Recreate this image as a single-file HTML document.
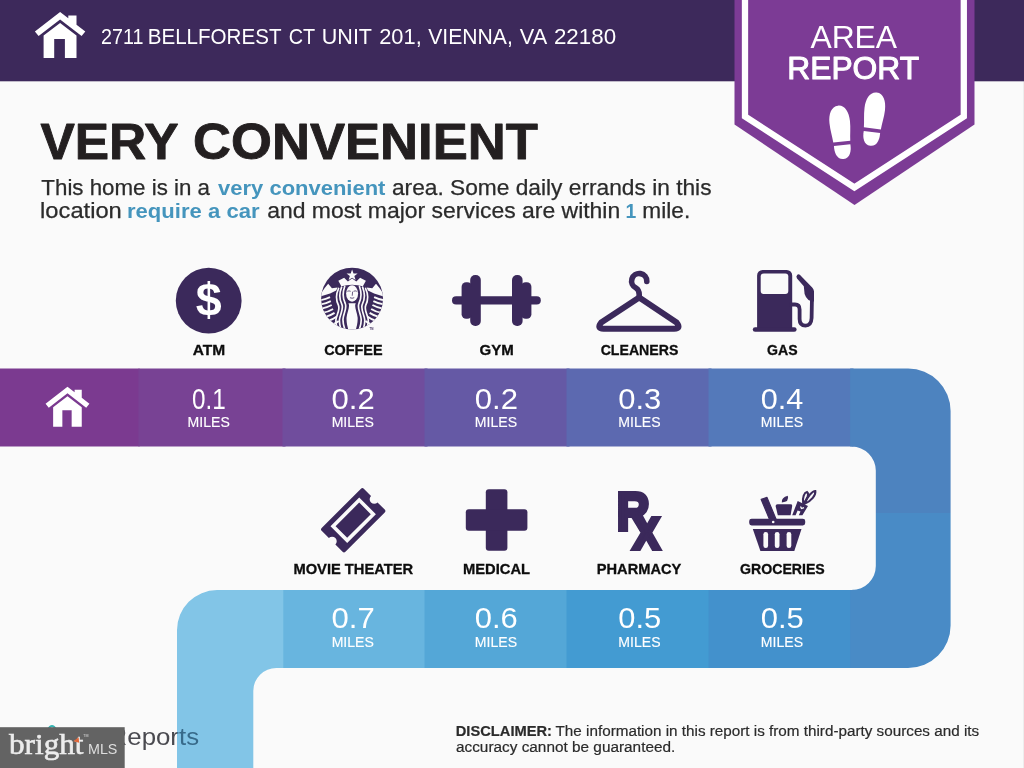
<!DOCTYPE html>
<html lang="en">
<head>
<meta charset="utf-8">
<title>Area Report - 2711 Bellforest Ct Unit 201, Vienna, VA 22180</title>
<style>
html,body{margin:0;padding:0;background:#fafafa;}
body{width:1024px;height:768px;overflow:hidden;position:relative;font-family:"Liberation Sans",sans-serif;}
svg{position:absolute;left:0;top:0;display:block;}
text{font-family:"Liberation Sans",sans-serif;}
.lbl{font-weight:bold;fill:#0d0d0d;stroke:#0d0d0d;stroke-width:0.3px;}
.num{fill:#fff;}
.mi{fill:#fff;}
.p{fill:#2b2b2b;stroke:#2b2b2b;stroke-width:0.25px;}
.hl{font-weight:bold;fill:#4595bd;stroke:none;}
.d{fill:#2b2b2b;stroke:#2b2b2b;stroke-width:0.2px;}
.b{font-weight:bold;}
.w{fill:#fff;}
.ttl{font-weight:bold;fill:#231f20;stroke:#231f20;stroke-width:0.9px;stroke-linejoin:round;}
</style>
</head>
<body>
<svg width="1024" height="768" viewBox="0 0 1024 768">
<rect x="0" y="0" width="1024" height="768" fill="#fafafa"/>
<rect x="1023" y="81" width="1" height="687" fill="#ededed"/>

<!-- ===== header ===== -->
<g id="header">
<rect x="0" y="0" width="1024" height="81.3" fill="#3d295b"/>
<g id="hdr-house" fill="#fff">
  <path d="M60.1 11.9 L68.3 18.3 L68.3 15.5 L76.5 15.5 L76.5 24.7 L85.3 31.5 L81.6 36.1 L60.1 19.5 L38.6 36.1 L34.9 31.5 Z"/>
  <path d="M60.1 22.9 L76.5 35.6 L76.5 57.9 L64.9 57.9 L64.9 39 L54.2 39 L54.2 57.9 L43.6 57.9 L43.6 35.6 Z"/>
</g>
<text y="43.6"><tspan x="101.01" font-size="22.5" textLength="42.38" lengthAdjust="spacingAndGlyphs" class="w">2711</tspan> <tspan x="147.71" font-size="22.5" textLength="133.75" lengthAdjust="spacingAndGlyphs" class="w">BELLFOREST</tspan> <tspan x="288.76" font-size="22.5" textLength="26.43" lengthAdjust="spacingAndGlyphs" class="w">CT</tspan> <tspan x="321.83" font-size="22.5" textLength="50.17" lengthAdjust="spacingAndGlyphs" class="w">UNIT</tspan> <tspan x="379.21" font-size="22.5" textLength="42.52" lengthAdjust="spacingAndGlyphs" class="w">201,</tspan> <tspan x="428.19" font-size="22.5" textLength="84.57" lengthAdjust="spacingAndGlyphs" class="w">VIENNA,</tspan> <tspan x="519.8" font-size="22.5" textLength="27.39" lengthAdjust="spacingAndGlyphs" class="w">VA</tspan> <tspan x="553.93" font-size="22.5" textLength="62.17" lengthAdjust="spacingAndGlyphs" class="w">22180</tspan></text>
</g>

<!-- ===== badge ===== -->
<g id="badge">
<path d="M734.5 0 H974.5 V124.5 L854.5 205 L734.5 124.5 Z" fill="#7c3b95"/>
<path d="M745 -4 V116.5 L854.4 187.5 L963.8 116.5 V-4" fill="none" stroke="#fff" stroke-width="6.3"/>
<text x="810.4" y="47.5" font-size="31.5" textLength="86.71" lengthAdjust="spacingAndGlyphs" class="w">AREA</text>
<text x="787.3" y="78.7" font-size="31.2" textLength="131.82" lengthAdjust="spacingAndGlyphs" class="w" stroke="#fff" stroke-width="1.0" stroke-linejoin="round">REPORT</text>
<g id="feet" fill="#fff">
  <g transform="translate(840.8,132.3) rotate(-6) scale(1.03)">
    <path d="M0 -26 C6.5 -26 10 -19 10 -10 C10 -3 8.6 3 8.3 9 L-8.3 9 C-8.6 3 -10 -3 -10 -10 C-10 -19 -6.5 -26 0 -26 Z"/>
    <path d="M-8 12.5 L8 12.5 C8.4 19 6.5 26 0 26 C-6.5 26 -8.4 19 -8 12.5 Z"/>
  </g>
  <g transform="translate(873.5,119.2) rotate(7) scale(1.03)">
    <path d="M0 -26 C6.5 -26 10 -19 10 -10 C10 -3 8.6 3 8.3 9 L-8.3 9 C-8.6 3 -10 -3 -10 -10 C-10 -19 -6.5 -26 0 -26 Z"/>
    <path d="M-8 12.5 L8 12.5 C8.4 19 6.5 26 0 26 C-6.5 26 -8.4 19 -8 12.5 Z"/>
  </g>
</g>
</g>

<!-- ===== title + intro ===== -->
<g id="intro">
<text y="158.8"><tspan x="40.47" font-size="50.6" textLength="138.12" lengthAdjust="spacingAndGlyphs" class="ttl">VERY</tspan> <tspan x="193.13" font-size="50.6" textLength="344.71" lengthAdjust="spacingAndGlyphs" class="ttl">CONVENIENT</tspan></text>
<text y="195.3"><tspan x="41.36" font-size="21.6" textLength="168.65" lengthAdjust="spacingAndGlyphs" class="p">This home is in a</tspan> <tspan x="218.08" font-size="21.0" textLength="167.37" lengthAdjust="spacingAndGlyphs" class="p hl">very convenient</tspan> <tspan x="391.95" font-size="21.6" textLength="319.6" lengthAdjust="spacingAndGlyphs" class="p">area. Some daily errands in this</tspan></text>
<text y="218.0"><tspan x="40.1" font-size="21.6" textLength="81.68" lengthAdjust="spacingAndGlyphs" class="p">location</tspan> <tspan x="127.0" font-size="21.0" textLength="132.54" lengthAdjust="spacingAndGlyphs" class="p hl">require a car</tspan> <tspan x="267.15" font-size="21.6" textLength="353.08" lengthAdjust="spacingAndGlyphs" class="p">and most major services are within</tspan> <tspan x="625.58" font-size="21.0" textLength="10.76" lengthAdjust="spacingAndGlyphs" class="p hl">1</tspan> <tspan x="642.36" font-size="21.6" textLength="47.86" lengthAdjust="spacingAndGlyphs" class="p">mile.</tspan></text>
</g>

<!-- ===== path bands ===== -->
<clipPath id="snake"><path d="M-2 368.6 H908.1 A42.5 42.5 0 0 1 950.6 411.1 V625.4 A42.5 42.5 0 0 1 908.1 667.9 H276.3 A23 23 0 0 0 253.3 690.9 V770 H177.0 V630.1 A40 40 0 0 1 217.0 590.1 H851.8 A24 24 0 0 0 875.8 566.1 V470.6 A24 24 0 0 0 851.8 446.6 H-2 Z"/></clipPath>
<g id="bands" clip-path="url(#snake)">
  <rect x="-2" y="360" width="141.5" height="95" fill="#7b3a90"/>
  <rect x="138.5" y="360" width="147.0" height="95" fill="#784294"/>
  <rect x="282.5" y="360" width="145.0" height="95" fill="#704d9d"/>
  <rect x="424.5" y="360" width="145.0" height="95" fill="#6559a5"/>
  <rect x="566.5" y="360" width="145.0" height="95" fill="#5c69b0"/>
  <rect x="708.5" y="360" width="145.0" height="95" fill="#5479ba"/>
  <rect x="282" y="582" width="145.5" height="95" fill="#68b5df"/>
  <rect x="424.5" y="582" width="145.0" height="95" fill="#54a7d7"/>
  <rect x="566.5" y="582" width="145.0" height="95" fill="#439bd2"/>
  <rect x="708.5" y="582" width="145.0" height="95" fill="#4391cc"/>
  <rect x="850.2" y="360" width="110" height="153" fill="#4d83bf"/>
  <rect x="850.2" y="513" width="110" height="170" fill="#498bc6"/>
  <rect x="170" y="582" width="113.3" height="190" fill="#82c5e7"/>
</g>

<!-- home icon on band -->
<g id="band-house" fill="#fff" transform="translate(15.2,376.3) scale(0.87)">
  <path d="M60.1 11.9 L68.3 18.3 L68.3 15.5 L76.5 15.5 L76.5 24.7 L85.3 31.5 L81.6 36.1 L60.1 19.5 L38.6 36.1 L34.9 31.5 Z"/>
  <path d="M60.1 22.9 L76.5 35.6 L76.5 57.9 L64.9 57.9 L64.9 39 L54.2 39 L54.2 57.9 L43.6 57.9 L43.6 35.6 Z"/>
</g>

<!-- distances -->
<g id="distances">
  <text x="192.12" y="408.7" font-size="30.0" textLength="33.78" lengthAdjust="spacingAndGlyphs" class="num" stroke="#784294" stroke-width="0.0">0.1</text> <text x="187.57" y="426.7" font-size="15.5" textLength="42.21" lengthAdjust="spacingAndGlyphs" class="mi" stroke="#fff" stroke-width="0.15">MILES</text>
  <text x="331.62" y="408.7" font-size="30.0" textLength="43.17" lengthAdjust="spacingAndGlyphs" class="num" stroke="#704d9d" stroke-width="0.0">0.2</text> <text x="331.67" y="426.7" font-size="15.5" textLength="42.21" lengthAdjust="spacingAndGlyphs" class="mi" stroke="#fff" stroke-width="0.15">MILES</text>
  <text x="474.82" y="408.7" font-size="30.0" textLength="43.17" lengthAdjust="spacingAndGlyphs" class="num" stroke="#6559a5" stroke-width="0.0">0.2</text> <text x="474.87" y="426.7" font-size="15.5" textLength="42.21" lengthAdjust="spacingAndGlyphs" class="mi" stroke="#fff" stroke-width="0.15">MILES</text>
  <text x="618.32" y="408.7" font-size="30.0" textLength="43.01" lengthAdjust="spacingAndGlyphs" class="num" stroke="#5c69b0" stroke-width="0.0">0.3</text> <text x="618.37" y="426.7" font-size="15.5" textLength="42.21" lengthAdjust="spacingAndGlyphs" class="mi" stroke="#fff" stroke-width="0.15">MILES</text>
  <text x="760.78" y="408.7" font-size="30.0" textLength="42.53" lengthAdjust="spacingAndGlyphs" class="num" stroke="#5479ba" stroke-width="0.0">0.4</text> <text x="760.87" y="426.7" font-size="15.5" textLength="42.21" lengthAdjust="spacingAndGlyphs" class="mi" stroke="#fff" stroke-width="0.15">MILES</text>
  <text x="331.62" y="628.1" font-size="30.0" textLength="43.17" lengthAdjust="spacingAndGlyphs" class="num" stroke="#68b5df" stroke-width="0.0">0.7</text> <text x="331.67" y="646.6" font-size="15.5" textLength="42.21" lengthAdjust="spacingAndGlyphs" class="mi" stroke="#fff" stroke-width="0.15">MILES</text>
  <text x="474.82" y="628.1" font-size="30.0" textLength="43.01" lengthAdjust="spacingAndGlyphs" class="num" stroke="#54a7d7" stroke-width="0.0">0.6</text> <text x="474.87" y="646.6" font-size="15.5" textLength="42.21" lengthAdjust="spacingAndGlyphs" class="mi" stroke="#fff" stroke-width="0.15">MILES</text>
  <text x="618.32" y="628.1" font-size="30.0" textLength="42.88" lengthAdjust="spacingAndGlyphs" class="num" stroke="#439bd2" stroke-width="0.0">0.5</text> <text x="618.37" y="646.6" font-size="15.5" textLength="42.21" lengthAdjust="spacingAndGlyphs" class="mi" stroke="#fff" stroke-width="0.15">MILES</text>
  <text x="760.77" y="628.1" font-size="30.0" textLength="42.99" lengthAdjust="spacingAndGlyphs" class="num" stroke="#4391cc" stroke-width="0.0">0.5</text> <text x="760.87" y="646.6" font-size="15.5" textLength="42.21" lengthAdjust="spacingAndGlyphs" class="mi" stroke="#fff" stroke-width="0.15">MILES</text>
</g>

<!-- labels -->
<g id="labels">
  <text x="192.65" y="354.5" font-size="14.4" textLength="32.42" lengthAdjust="spacingAndGlyphs" class="lbl">ATM</text>
  <text x="324.17" y="354.5" font-size="14.4" textLength="58.44" lengthAdjust="spacingAndGlyphs" class="lbl">COFFEE</text>
  <text x="479.58" y="354.5" font-size="14.4" textLength="34.19" lengthAdjust="spacingAndGlyphs" class="lbl">GYM</text>
  <text x="600.68" y="354.5" font-size="14.4" textLength="77.64" lengthAdjust="spacingAndGlyphs" class="lbl">CLEANERS</text>
  <text x="767.02" y="354.5" font-size="14.4" textLength="30.56" lengthAdjust="spacingAndGlyphs" class="lbl">GAS</text>
  <text x="293.43" y="574.3" font-size="14.4" textLength="119.73" lengthAdjust="spacingAndGlyphs" class="lbl">MOVIE THEATER</text>
  <text x="463.05" y="574.3" font-size="14.4" textLength="67.05" lengthAdjust="spacingAndGlyphs" class="lbl">MEDICAL</text>
  <text x="596.76" y="574.3" font-size="14.4" textLength="84.57" lengthAdjust="spacingAndGlyphs" class="lbl">PHARMACY</text>
  <text x="739.99" y="574.3" font-size="14.4" textLength="84.81" lengthAdjust="spacingAndGlyphs" class="lbl">GROCERIES</text>
</g>

<!-- ===== icons ===== -->
<g id="icons" fill="#3b295b">
  <!-- ATM -->
  <g id="ic-atm">
    <circle cx="208.7" cy="300.7" r="32.9"/>
    <text x="208.7" y="316.2" font-size="46.7" font-weight="bold" fill="#fff" text-anchor="middle">$</text>
  </g>

  <!-- COFFEE (siren) -->
  <g id="ic-coffee" transform="translate(316,263) scale(0.09375)">
    <clipPath id="cc"><circle cx="385" cy="380" r="330"/></clipPath>
    <circle cx="385" cy="380" r="330"/>
    <g clip-path="url(#cc)">
      <g fill="#fafafa">
        <path d="M130 220 L170 268 L230 260 L216 294 L150 324 L50 356 L58 316 Q92 262 130 220 Z"/>
        <path d="M 640 220 L 600 268 L 540 260 L 554 294 L 620 324 L 720 356 L 712 316 Q 678 262 640 220 Z"/>
      </g>
      <g fill="none" stroke="#fafafa" stroke-width="20">
        <path d="M40 398 Q100 388 150 364"/>
        <path d="M 730 398 Q 670 388 620 364"/>
        <path d="M48 442 Q106 432 158 406"/>
        <path d="M 722 442 Q 664 432 612 406"/>
        <path d="M60 486 Q116 476 168 448"/>
        <path d="M 710 486 Q 654 476 602 448"/>
        <path d="M78 530 Q132 520 182 490"/>
        <path d="M 692 530 Q 638 520 588 490"/>
        <path d="M102 574 Q152 562 198 532"/>
        <path d="M 668 574 Q 618 562 572 532"/>
        <path d="M134 616 Q178 604 218 574"/>
        <path d="M 636 616 Q 592 604 552 574"/>
        <path d="M176 656 Q212 644 242 618"/>
        <path d="M 594 656 Q 558 644 528 618"/>
      </g>
      <g fill="none" stroke="#fafafa" stroke-width="18" stroke-linecap="round">
        <path d="M306 250 C278 330 292 392 312 432 C334 482 292 540 288 600 C285 650 300 680 312 722"/>
        <path d="M 464 250 C 492 330 478 392 458 432 C 436 482 478 540 482 600 C 485 650 470 680 458 722"/>
        <path d="M273 258 C240 340 256 402 276 442 C298 492 254 550 250 608 C248 650 258 680 266 712"/>
        <path d="M 497 258 C 530 340 514 402 494 442 C 472 492 516 550 520 608 C 522 650 512 680 504 712"/>
        <path d="M241 272 C204 350 220 412 240 452 C260 502 216 556 212 610 C210 640 216 662 222 684"/>
        <path d="M 529 272 C 566 350 550 412 530 452 C 510 502 554 556 558 610 C 560 640 554 662 548 684"/>
      </g>
      <path fill="#fafafa" d="M346 428 C366 468 332 520 326 580 C322 640 340 690 350 730 L420 730 C430 690 448 640 444 580 C438 520 404 468 424 428 Z"/>
      <ellipse cx="385" cy="325" rx="64" ry="88" fill="#fafafa"/>
      <g fill="none" stroke="#3b295b" stroke-width="8" stroke-linecap="round">
        <path d="M338 300 Q352 292 366 300"/>
        <path d="M404 300 Q418 292 432 300"/>
        <path d="M366 372 Q385 382 404 372"/>
        <path d="M390 310 L387 345"/>
      </g>
      <path fill="#fafafa" d="M238 190 L300 156 L340 198 L385 166 L430 198 L470 156 L532 190 L500 248 Q385 214 270 248 Z"/>
      <path fill="#fafafa" d="M385 70 L400 112 L444 112 L409 139 L422 182 L385 156 L348 182 L361 139 L326 112 L370 112 Z"/>
    </g>
  </g>

  <text x="369.6" y="329.6" font-size="2.6" font-weight="bold">TM</text>

  <!-- GYM -->
  <g id="ic-gym">
    <rect x="452" y="296.3" width="88.8" height="8.2" rx="4.1"/>
    <rect x="470.2" y="275" width="10.6" height="51" rx="5"/>
    <rect x="512" y="275" width="10.6" height="51" rx="5"/>
    <rect x="461.6" y="282.2" width="10.4" height="36.6" rx="4.6"/>
    <rect x="521" y="282.2" width="10.4" height="36.6" rx="4.6"/>
  </g>


  <!-- CLEANERS -->
  <g id="ic-cleaners" fill="none" stroke="#3b295b" stroke-linecap="round" stroke-linejoin="round">
    <path d="M646.8 281.4 A7.6 7.6 0 1 0 636 288 Q639.2 290 639.2 294.5 V297.5" stroke-width="5.6"/>
    <path d="M639.2 297.6 L601.2 322.6 Q596.4 328.7 603.6 328.8 H674.2 Q681.4 328.7 676.6 322.6 Z" stroke-width="6"/>
  </g>

  <!-- GAS -->
  <g id="ic-gas">
    <path d="M757.1 329 V275.5 A5.5 5.5 0 0 1 762.6 270 H786.7 A5.5 5.5 0 0 1 792.2 275.5 V329 Z"/>
    <rect x="752.8" y="327.2" width="43.8" height="4.6" rx="2.3"/>
    <rect x="760.7" y="273.6" width="27.6" height="20.4" rx="3" fill="#fafafa"/>
    <path d="M791 304.5 H795 Q799.6 304.5 799.6 309.5 V319 Q799.6 325.6 805.5 325.6 Q811.2 325.6 811.6 318 L812 296" fill="none" stroke="#3b295b" stroke-width="3.8" stroke-linecap="round"/>
    <path d="M797.3 274.8 Q795.6 276.6 797 278.4 L803.8 286.2 L804.6 294 Q807 301.5 814 301.5 V291.2 Q813.7 289 812.2 287.5 L799.8 274.8 Q798.5 273.8 797.3 274.8 Z"/>
  </g>

  <!-- MOVIE THEATER -->
  <g id="ic-movie" transform="translate(353.2,520.2) rotate(-45)">
    <path d="M-27.8 -16.8 H27.8 Q29.8 -16.8 29.8 -14.8 V-4.6 A4.6 4.6 0 0 0 29.8 4.6 V14.8 Q29.8 16.8 27.8 16.8 H-27.8 Q-29.8 16.8 -29.8 14.8 V4.6 A4.6 4.6 0 0 0 -29.8 -4.6 V-14.8 Q-29.8 -16.8 -27.8 -16.8 Z"/>
    <rect x="-18.5" y="-10" width="37" height="20" fill="none" stroke="#fafafa" stroke-width="3.6"/>
  </g>

  <!-- MEDICAL -->
  <g id="ic-medical">
    <rect x="485.8" y="489.3" width="21.6" height="61.4" rx="3"/>
    <rect x="465.8" y="509.3" width="61.6" height="21.4" rx="3"/>
  </g>

  <!-- PHARMACY -->
  <g id="ic-pharmacy" stroke="#3b295b" stroke-width="4.2" stroke-linejoin="miter" font-weight="bold">
    <text x="616.7" y="530.2" font-size="54.2" textLength="32.9" lengthAdjust="spacingAndGlyphs">R</text>
    <text x="632.65" y="548.8" font-size="43.9" textLength="27" lengthAdjust="spacingAndGlyphs">X</text>
  </g>


  <!-- GROCERIES -->
  <g id="ic-groceries">
    <path d="M761.2 499.4 L767 497.4 L776.6 520.5 L770.8 522.5 Z" stroke="#3b295b" stroke-width="1.2" stroke-linejoin="round"/>
    <rect x="749.2" y="518.7" width="56" height="6.8" rx="2.4"/>
    <circle cx="773.2" cy="522" r="1.3" fill="#fafafa"/>
    <path d="M752.8 529.1 H801.5 L794.3 550.9 H760.4 Z"/>
    <g fill="#fafafa">
      <rect x="763.4" y="532" width="4.7" height="16" rx="2.3"/>
      <rect x="774.8" y="532" width="4.7" height="16" rx="2.3"/>
      <rect x="786.6" y="532" width="4.7" height="16" rx="2.3"/>
    </g>
    <path d="M775.6 506 Q775.6 504.3 777.5 504.3 H790.5 Q792.4 504.3 792.2 506 L790.6 515.2 H777.8 Z"/>
    <path d="M781.8 502.4 Q781.4 497.4 787.8 495.8 Q789.6 502 781.8 502.4 Z"/>
    <path d="M792.2 515.2 L797.7 501 L808 506 L802.4 515.2 L798.8 515.2 L800.5 511.6 L797.6 510.6 L795.6 515.2 Z"/>
    <path d="M800.5 506.5 L801.5 508.5 L804 507.6" fill="none" stroke="#fafafa" stroke-width="1.3"/>
    <g fill="none" stroke="#3b295b" stroke-width="2.1" stroke-linecap="round">
      <path d="M803.2 503.6 C802 497 804.5 492.5 807 492 C809.5 494 807.5 499 803.2 503.6 Z"/>
      <path d="M804.5 503.8 C807.5 496 812.5 491 815.3 491 C816 495 811.5 501 804.5 503.8 Z"/>
    </g>
  </g>
</g>


<!-- ===== footer ===== -->
<g id="footer">
  <linearGradient id="rg" gradientUnits="userSpaceOnUse" x1="100" y1="0" x2="200" y2="0"><stop offset="0.769" stop-color="#4a4a50"/><stop offset="0.769" stop-color="#376a8a"/></linearGradient>
  <text x="108.6" y="745" font-size="23.2" fill="url(#rg)" textLength="90.5" lengthAdjust="spacingAndGlyphs">Reports</text>
  <path d="M48 729.5 Q52 722.5 56 729.5" fill="none" stroke="#35b5b3" stroke-width="2.2" stroke-linecap="round"/>
  <text x="455.73" y="736.3" font-size="15.2" textLength="96.27" lengthAdjust="spacingAndGlyphs" class="d b">DISCLAIMER:</text>
  <text x="555.57" y="736.3" font-size="15.2" textLength="423.58" lengthAdjust="spacingAndGlyphs" class="d">The information in this report is from third-party sources and its</text>
  <text x="455.96" y="752.1" font-size="15.2" textLength="219.35" lengthAdjust="spacingAndGlyphs" class="d">accuracy cannot be guaranteed.</text>
  <rect x="0" y="727.2" width="124.7" height="41" fill="#636363"/>
  <text x="9" y="754.4" style="font-family:'Liberation Serif','DejaVu Serif',serif" font-size="30" fill="#ececec" stroke="#ececec" stroke-width="0.6" textLength="74.5" lengthAdjust="spacingAndGlyphs">bright</text>
  <path d="M73.4 741.2 L78.6 737.2 L79.2 742.8 Z" fill="#e0673a"/>
  <text x="88" y="754.4" font-size="14.2" fill="#dedede" textLength="29.4" lengthAdjust="spacingAndGlyphs">MLS</text>
  <text x="83.2" y="737" font-size="3.6" fill="#dedede">TM</text>
</g>
</svg>
</body>
</html>
